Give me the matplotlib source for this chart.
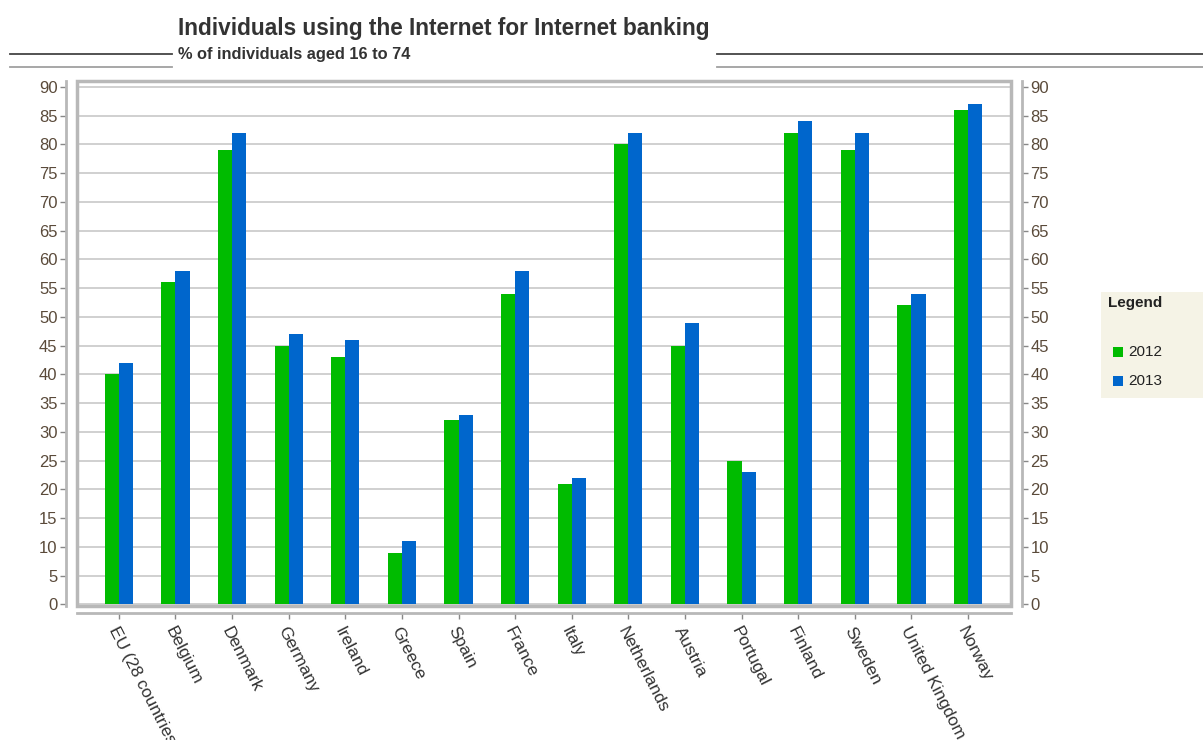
import matplotlib
matplotlib.use("Agg")
import matplotlib.pyplot as plt
from matplotlib.patches import Rectangle
from matplotlib import font_manager
import numpy as np

countries = ["EU (28 countries)", "Belgium", "Denmark", "Germany", "Ireland", "Greece",
             "Spain", "France", "Italy", "Netherlands", "Austria", "Portugal",
             "Finland", "Sweden", "United Kingdom", "Norway"]
values_2012 = [40, 56, 79, 45, 43, 9, 32, 54, 21, 80, 45, 25, 82, 79, 52, 86]
values_2013 = [42, 58, 82, 47, 46, 11, 33, 58, 22, 82, 49, 23, 84, 82, 54, 87]
series_labels = ["2012", "2013"]
y_ticks = list(range(0, 95, 5))

names = {f.name for f in font_manager.fontManager.ttflist}
narrow = "Liberation Sans Narrow" if "Liberation Sans Narrow" in names else "Liberation Sans"
plt.rcParams["font.family"] = [narrow, "DejaVu Sans"]

GREEN = "#00BB00"
BLUE = "#0066CC"
GRID = "#C8C8C8"
FRAME = "#B8B8B8"

fig = plt.figure(figsize=(12.03, 7.40), dpi=100)
ax = fig.add_axes([77 / 1203, 1 - 606 / 740, (1011 - 77) / 1203, (606 - 81) / 740])

x = np.arange(len(countries))
w = 0.25
ax.bar(x - w / 2, values_2012, w, color=GREEN, label=series_labels[0], zorder=3)
ax.bar(x + w / 2, values_2013, w, color=BLUE, label=series_labels[1], zorder=3)

ax.set_xlim(-0.74, len(countries) - 1 + 0.76)
ax.set_ylim(-0.3, 91)
ax.set_yticks(y_ticks)
ax.yaxis.grid(True, color=GRID, lw=1.2, zorder=0)
ax.set_axisbelow(True)

# outer frame
ax.add_patch(Rectangle((0, 0), 1, 1, transform=ax.transAxes, fill=False,
                       ec=FRAME, lw=2.5, clip_on=False, zorder=4))
ax.spines["top"].set_visible(False)
for side in ("left", "right"):
    ax.spines[side].set_position(("outward", 8))
    ax.spines[side].set_color(FRAME)
    ax.spines[side].set_linewidth(2)
ax.spines["bottom"].set_position(("outward", 5))
ax.spines["bottom"].set_color(FRAME)
ax.spines["bottom"].set_linewidth(2)

ax.tick_params(axis="y", left=True, right=True, labelleft=True, labelright=True,
               length=4, width=1, color="#888888", labelsize=12,
               labelcolor="#5A4A3A", pad=2)
ax.set_xticks(x)
ax.set_xticklabels(countries, rotation=-63, ha="left", va="top",
                   rotation_mode="anchor", fontsize=12.5, color="#333333")
ax.tick_params(axis="x", length=4, width=1, color="#888888", pad=4)

# title block
fig.text(178 / 1203, 1 - 28 / 740, "Individuals using the Internet for Internet banking",
         fontsize=16.3, fontweight="bold", color="#333333", ha="left", va="center")
fig.text(178 / 1203, 1 - 54 / 740, "% of individuals aged 16 to 74",
         fontsize=11.8, fontweight="bold", color="#333333", ha="left", va="center")
for (x0, x1) in ((10, 172), (717, 1203)):
    fig.add_artist(plt.Line2D([x0 / 1203, x1 / 1203], [1 - 54 / 740, 1 - 54 / 740],
                              color="#444444", lw=1.3))
    fig.add_artist(plt.Line2D([x0 / 1203, x1 / 1203], [1 - 67 / 740, 1 - 67 / 740],
                              color="#A0A0A0", lw=1.3))

# legend panel
fig.add_artist(Rectangle((1101 / 1203, 1 - 398 / 740), 102 / 1203, 106 / 740,
                         transform=fig.transFigure, fc="#F5F3E6", ec="none"))
fig.text(1108 / 1203, 1 - 303 / 740, "Legend", fontsize=11, fontweight="bold",
         color="#222222", family=["Liberation Sans", "DejaVu Sans"], ha="left", va="center")
for lab, col, yy in ((series_labels[0], GREEN, 352), (series_labels[1], BLUE, 381)):
    fig.add_artist(Rectangle((1113 / 1203, 1 - (yy + 5) / 740), 10 / 1203, 10 / 740,
                             transform=fig.transFigure, fc=col, ec="none"))
    fig.text(1128 / 1203, 1 - yy / 740, lab, fontsize=11, color="#222222",
             family=["Liberation Sans", "DejaVu Sans"], ha="left", va="center")

fig.savefig("out.png", dpi=100)
